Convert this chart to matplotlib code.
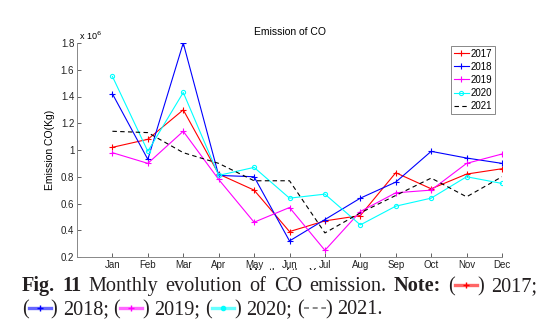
import numpy as np
import matplotlib.pyplot as plt
from matplotlib.lines import Line2D
from matplotlib.patches import Rectangle

months = ["Jan", "Feb", "Mar", "Apr", "May", "Jun", "Jul", "Aug", "Sep", "Oct", "Nov", "Dec"]

# monthly CO emission, in units of 10^6 kg
co_2017 = [1.02, 1.08, 1.30, 0.82, 0.70, 0.39, 0.47, 0.51, 0.83, 0.71, 0.82, 0.86]
co_2018 = [1.42, 0.93, 1.80, 0.81, 0.80, 0.32, 0.48, 0.64, 0.76, 0.99, 0.94, 0.90]
co_2019 = [0.98, 0.90, 1.14, 0.78, 0.46, 0.57, 0.25, 0.54, 0.68, 0.70, 0.90, 0.97]
co_2020 = [1.55, 0.99, 1.43, 0.81, 0.87, 0.64, 0.67, 0.44, 0.58, 0.64, 0.80, 0.75]
co_2021 = [1.14, 1.13, 0.98, 0.90, 0.77, 0.77, 0.38, 0.53, 0.66, 0.79, 0.65, 0.80]

years = ["2017", "2018", "2019", "2020", "2021"]
series = [co_2017, co_2018, co_2019, co_2020, co_2021]
styles = [
    dict(color="red", marker="+", ls="-"),
    dict(color="blue", marker="+", ls="-"),
    dict(color="magenta", marker="+", ls="-"),
    dict(color="cyan", marker="o", ls="-", mfc="none"),
    dict(color="black", marker="", ls="--"),
]

W, H = 547, 332
fig = plt.figure(figsize=(W / 100, H / 100), dpi=100)
plt.rcParams["font.family"] = ["Liberation Sans", "DejaVu Sans"]

ax = fig.add_axes([77 / W, 75 / H, 425 / W, 214 / H])
x = np.arange(1, 13)
for yr, vals, st in zip(years, series, styles):
    ax.plot(x, vals, label=yr, lw=0.8, ms=4 if st["marker"] == "+" else 3,
            mew=0.8, dashes=(4, 3) if st["ls"] == "--" else (None, None), **st)

ax.set_xlim(0, 12)
ax.set_ylim(0.2, 1.8)
ax.set_xticks(x)
ax.set_xticklabels(months)
ax.set_yticks([0.2, 0.4, 0.6, 0.8, 1.0, 1.2, 1.4, 1.6, 1.8])
ax.set_yticklabels(["0.2", "0.4", "0.6", "0.8", "1", "1.2", "1.4", "1.6", "1.8"])
ax.tick_params(direction="in", length=3, width=0.5, labelsize=7, pad=2, colors="#222222")
for s in ["top", "right"]:
    ax.spines[s].set_visible(False)
for s in ["left", "bottom"]:
    ax.spines[s].set_color("#888888")
    ax.spines[s].set_linewidth(0.7)

ax.set_title("Emission of CO", fontsize=7.5, pad=6)
ax.set_ylabel("Emission CO(Kg)", fontsize=7.5, labelpad=4)
ax.set_xlabel("Month of the Year", fontsize=7.5, labelpad=-1)
ax.text(0.005, 1.005, r"x 10$^{6}$", transform=ax.transAxes, fontsize=6.5,
        va="bottom", ha="left")

leg = ax.legend(loc="upper right", bbox_to_anchor=(0.995, 1.01), fontsize=7,
                handlelength=1.5, handletextpad=0.2, borderpad=0.3,
                labelspacing=0.32, fancybox=False, framealpha=1)
leg.get_frame().set_edgecolor("#888888")
leg.get_frame().set_linewidth(0.7)

# caption block sits over the lower part of the axis label
fig.add_artist(Rectangle((0, 0), 1, 62 / H, transform=fig.transFigure,
                         facecolor="white", edgecolor="none", zorder=5))

renderer = fig.canvas.get_renderer()
cap_font = ["Liberation Serif", "DejaVu Serif"]
cap_size = 14.6
ink = "#231f20"
SAMPLE_W = 22


def make_text(s, weight="normal"):
    return fig.text(0, 0, s, fontsize=cap_size, family=cap_font, weight=weight,
                    color=ink, va="baseline", ha="left", zorder=6)


def draw_sample(px, py, st):
    yy = 1 - (py - 6.5) / H
    xs = [px / W, (px + SAMPLE_W) / W]
    if st["ls"] == "--":
        fig.add_artist(Line2D(xs, [yy, yy], transform=fig.transFigure, color="#777777",
                              lw=1.2, dashes=(3, 2.2), zorder=6))
        return
    fig.add_artist(Line2D(xs, [yy, yy], transform=fig.transFigure, color=st["color"],
                          lw=2.4, alpha=0.6, zorder=6))
    mid = (px + SAMPLE_W / 2) / W
    if st["marker"] == "o":
        fig.add_artist(Line2D([mid], [yy], transform=fig.transFigure, color=st["color"],
                              marker="o", ms=3, zorder=7))
    else:
        fig.add_artist(Line2D([mid], [yy], transform=fig.transFigure, color=st["color"],
                              marker="+", ms=5, mew=1, zorder=7))


def caption_line(groups, x0, py, end=None):
    # each group is a list of glued pieces: (text, weight) tuples or a style dict
    space = make_text(" ").get_window_extent(renderer).width
    built = []
    for g in groups:
        pieces = []
        for p in g:
            if isinstance(p, dict):
                pieces.append(("s", p, SAMPLE_W))
            else:
                t = make_text(*p)
                pieces.append(("t", t, t.get_window_extent(renderer).width))
        built.append(pieces)
    total = sum(w for g in built for _, _, w in g) + space * (len(built) - 1)
    gap = space
    if end is not None and len(built) > 1:
        gap = space + max(0, (end - x0 - total) / (len(built) - 1))
    cx = x0
    for g in built:
        for kind, obj, w in g:
            if kind == "t":
                obj.set_position((cx / W, 1 - py / H))
            else:
                draw_sample(cx, py, obj)
            cx += w
        cx += gap


line1 = [[("Fig.", "bold")], [("11", "bold")], [("Monthly",)], [("evolution",)],
         [("of",)], [("CO",)], [("emission.",)], [("Note:", "bold")],
         [("(",), styles[0], (")",)], [(years[0] + ";",)]]
line2 = []
for i in range(1, 5):
    line2.append([("(",), styles[i], (")",)])
    line2.append([(years[i] + (";" if i < 4 else "."),)])

caption_line(line1, 22, 291, end=537)
caption_line(line2, 22, 314)

fig.savefig("out.png", dpi=100)
